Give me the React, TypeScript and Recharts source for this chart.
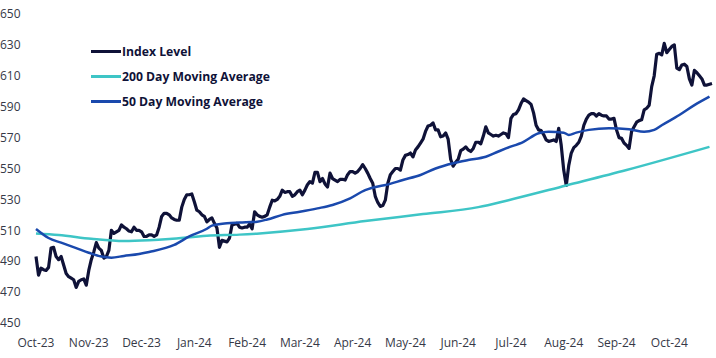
import { LineChart, Line, XAxis, YAxis } from "recharts";

// tick labels: one every 21 trading days, first at day 0
const monthLabels = [
  "Oct-23", "Nov-23", "Dec-23", "Jan-24", "Feb-24", "Mar-24", "Apr-24",
  "May-24", "Jun-24", "Jul-24", "Aug-24", "Sep-24", "Oct-24",
];
const monthTicks = monthLabels.map((_, i) => i * 21);
const yTicks = [450, 470, 490, 510, 530, 550, 570, 590, 610, 630, 650];

// daily closes, trading day 0 .. 269
const indexLevel = [
  493, 481, 485.5, 484.5, 484, 486, 498.5, 499, 493, 491,
  493, 487.5, 482, 480, 479, 478, 473, 477, 478, 478.5,
  474.5, 484, 491, 496, 502, 498.5, 497, 492, 493, 497,
  510, 508, 509, 510, 513.5, 512, 511, 509.5, 509, 512,
  510, 510, 509, 506, 506, 507, 507, 506, 507, 512,
  519, 521, 521, 520, 518, 517, 516.5, 516.5, 525, 530,
  533, 533, 533.5, 528.5, 523, 522, 520, 519, 515.5, 517,
  518, 514.5, 511.5, 499, 503.5, 503, 502.5, 505, 513.5, 514,
  514.5, 512, 511.5, 512, 512, 514, 511, 522, 520, 519,
  518.5, 519, 520, 525, 529.5, 529, 530, 532, 536, 534.5,
  535, 535, 532, 533, 535, 536, 533, 536, 539.5, 541.5,
  540.5, 547.5, 547.5, 541.5, 543.5, 540, 538, 547, 543.5, 542.5,
  541.5, 543, 543, 542.5, 546, 548, 548, 547, 548, 550,
  552.5, 550, 547, 543.5, 540.5, 532, 528, 525.5, 526, 529.5,
  540.5, 546, 548, 550, 550, 549, 555.5, 558.5, 559, 560,
  557.5, 562, 564, 566.5, 569, 574, 577.5, 578, 579.5, 575,
  575, 570.5, 571, 573, 569, 556, 551.5, 554, 556, 561.5,
  562.5, 564, 562, 561, 563, 567, 567, 566, 571, 577,
  573, 572, 571, 571.5, 571, 572, 573, 572.5, 570, 582.5,
  585, 585.5, 588, 592, 595, 594, 593, 591.5, 586, 578,
  575, 574.5, 572, 568.5, 567.5, 568, 568.5, 567.5, 576, 565,
  549, 539, 552, 560, 563.5, 565, 567, 571, 578, 582,
  584.5, 585.5, 585.5, 584, 585.5, 584.5, 584, 584, 582, 582,
  582.5, 575, 570, 569.5, 566.5, 565, 563, 574, 577, 580,
  581, 581.5, 588, 589, 591, 603, 610, 624, 624.5, 623.5,
  631, 625, 627, 629, 630, 615, 614, 617, 617.5, 616,
  608, 604, 613.5, 612, 610, 608, 604, 604, 604.5, 605,
];

// moving averages as [trading day, level]
const ma200: [number, number][] = [
  [0, 508], [9, 507], [22, 504.5], [35, 503], [45, 503.5], [53, 504.3],
  [68, 506.5], [81, 507.2], [89, 508], [108, 510.8], [131, 516], [154, 520.5],
  [176, 525], [188, 529.5], [211, 539], [235, 549], [268, 564],
];
const ma50: [number, number][] = [
  [0, 510.8], [5, 505], [10, 502], [16, 498.5], [21, 495.5], [26, 493],
  [30, 492.3], [35, 493.4], [41, 494.7], [45, 496], [55, 500.5], [61, 506],
  [68, 511], [70, 513], [76, 514.5], [81, 515], [88, 515.6], [92, 517],
  [98, 520], [105, 522], [112, 524.2], [118, 526.4], [125, 530.7], [131, 536],
  [137, 538.7], [139, 539.3], [146, 542.6], [153, 545.8], [159, 550], [166, 553.4],
  [172, 555.5], [179, 557.6], [184, 561], [187, 563], [194, 567.3], [200, 572.8],
  [204, 573.8], [210, 573.2], [212, 571.7], [215, 573.2], [220, 575], [228, 576],
  [236, 575.4], [242, 573.8], [246, 575], [249, 578], [256, 584.6], [262, 591],
  [268, 596.5],
];

const indexData = indexLevel.map((value, day) => ({ day, value }));
const ma200Data = ma200.map(([day, value]) => ({ day, value }));
const ma50Data = ma50.map(([day, value]) => ({ day, value }));

const legendItems = [
  { name: "Index Level", color: "#0f1238" },
  { name: "200 Day Moving Average", color: "#3ec5c6" },
  { name: "50 Day Moving Average", color: "#1a49ad" },
];

const tickColor = "#363947";
const font = "'Open Sans', sans-serif";

function YTick(props: any) {
  const { y, payload } = props;
  return (
    <text x={0} y={y} dy="0.35em" textAnchor="start" fill={tickColor} fontSize={12} fontFamily={font}>
      {payload.value}
    </text>
  );
}

export default function App() {
  return (
    <div style={{ position: "absolute", left: 0, top: 0, width: 716, height: 358, background: "#fff" }}>
      <LineChart width={716} height={358} margin={{ top: 14, right: 4, bottom: 0, left: 0 }}>
        <XAxis
          type="number"
          dataKey="day"
          domain={[0, 269]}
          ticks={monthTicks}
          tickFormatter={(v: number) => monthLabels[Math.round(v / 21)]}
          axisLine={false}
          tickLine={false}
          tickMargin={9}
          height={35}
          interval={0}
          tick={{ fill: tickColor, fontSize: 12, fontFamily: font }}
        />
        <YAxis
          type="number"
          domain={[450, 650]}
          ticks={yTicks}
          width={36}
          axisLine={false}
          tickLine={false}
          interval={0}
          tick={<YTick />}
        />
        <Line
          data={indexData}
          dataKey="value"
          type="linear"
          stroke={legendItems[0].color}
          strokeWidth={3.2}
          strokeLinejoin="round"
          dot={false}
          isAnimationActive={false}
        />
        <Line
          data={ma200Data}
          dataKey="value"
          type="monotone"
          stroke={legendItems[1].color}
          strokeWidth={2.5}
          dot={false}
          isAnimationActive={false}
        />
        <Line
          data={ma50Data}
          dataKey="value"
          type="monotone"
          stroke={legendItems[2].color}
          strokeWidth={2.5}
          dot={false}
          isAnimationActive={false}
        />
      </LineChart>
      <div style={{ position: "absolute", left: 91, top: 39, fontFamily: font }}>
        {legendItems.map((item) => (
          <div key={item.name} style={{ display: "flex", alignItems: "center", height: 25 }}>
            <div style={{ width: 30, height: 3, background: item.color, marginRight: 1 }} />
            <span style={{ fontSize: 12.2, fontWeight: 700, color: "#0f1238" }}>{item.name}</span>
          </div>
        ))}
      </div>
    </div>
  );
}
